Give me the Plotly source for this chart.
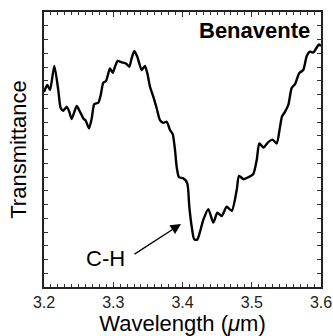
import plotly.graph_objects as go

wavelength = [3.2000, 3.2048, 3.2087, 3.2149, 3.2206, 3.2241, 3.2279, 3.2328, 3.2365, 3.2400,
              3.2472, 3.2520, 3.2568, 3.2602, 3.2650, 3.2689, 3.2726, 3.2784, 3.2819, 3.2856,
              3.2895, 3.2929, 3.2953, 3.2992, 3.3025, 3.3064, 3.3122, 3.3184, 3.3232, 3.3266,
              3.3304, 3.3347, 3.3376, 3.3411, 3.3458, 3.3492, 3.3531, 3.3578, 3.3627, 3.3675,
              3.3723, 3.3772, 3.3819, 3.3859, 3.3892, 3.3916, 3.3949, 3.4012, 3.4069, 3.4098,
              3.4133, 3.4170, 3.4214, 3.4253, 3.4300, 3.4373, 3.4445, 3.4503, 3.4566, 3.4638,
              3.4711, 3.4783, 3.4816, 3.4881, 3.4950, 3.5022, 3.5072, 3.5109, 3.5170, 3.5239,
              3.5300, 3.5360, 3.5408, 3.5437, 3.5480, 3.5528, 3.5577, 3.5625, 3.5687, 3.5744,
              3.5794, 3.5841, 3.5889, 3.5938, 3.5971, 3.6000]
transmittance = [70.9, 73.5, 71.6, 80.4, 71.6, 65.1, 64.1, 65.6, 63.7, 61.1,
                 65.8, 63.7, 61.3, 60.5, 57.7, 61.3, 66.5, 67.0, 69.8, 74.3,
                 74.9, 77.7, 79.5, 77.9, 80.1, 82.2, 81.7, 81.3, 80.1, 83.2,
                 85.8, 83.7, 81.3, 78.9, 80.4, 77.7, 72.8, 69.2, 65.0, 60.7,
                 59.7, 60.1, 57.1, 55.6, 49.8, 43.7, 39.9, 39.5, 37.7, 29.2,
                 21.9, 17.3, 17.3, 20.1, 24.4, 28.3, 23.4, 27.0, 25.8, 29.2,
                 27.7, 35.3, 40.4, 39.2, 39.9, 41.1, 46.2, 52.2, 50.7, 52.7,
                 53.6, 52.2, 58.2, 62.0, 63.7, 66.2, 72.4, 73.8, 77.8, 78.9,
                 84.0, 85.6, 85.3, 87.1, 88.2, 87.6]

x_ticks = [3.2, 3.3, 3.4, 3.5, 3.6]
x_tick_labels = ["3.2", "3.3", "3.4", "3.5", "3.6"]

sample_name = "Benavente"
band_label = "C-H"
band_label_pos = (3.2895, 10.2)
arrow_tail = (3.3285, 11.6)
arrow_head = (3.3978, 22.9)

FONT = "Liberation Sans, Arial, Helvetica, sans-serif"

fig = go.Figure()
fig.add_trace(go.Scatter(
    x=wavelength, y=transmittance, mode="lines",
    line=dict(color="black", width=2.4, shape="spline", smoothing=0.6),
    showlegend=False, hoverinfo="skip"))

fig.add_annotation(text="<b>%s</b>" % sample_name, xref="paper", yref="paper",
                   x=0.9675, y=0.931, xanchor="right", yanchor="middle",
                   showarrow=False, font=dict(family=FONT, size=22, color="black"))
fig.add_annotation(text=band_label, x=band_label_pos[0], y=band_label_pos[1],
                   xref="x", yref="y", xanchor="center", yanchor="middle",
                   showarrow=False, font=dict(family=FONT, size=22, color="black"))
fig.add_annotation(text="", x=arrow_head[0], y=arrow_head[1], xref="x", yref="y",
                   ax=arrow_tail[0], ay=arrow_tail[1], axref="x", ayref="y",
                   showarrow=True, arrowhead=2, arrowsize=1.6, arrowwidth=1.3,
                   arrowcolor="black")

fig.update_layout(
    width=333, height=336,
    margin=dict(l=44, r=12, t=12, b=49, autoexpand=False),
    paper_bgcolor="white", plot_bgcolor="white",
    font=dict(family=FONT, color="black"),
    xaxis=dict(range=[3.2, 3.6], tickvals=x_ticks, ticktext=x_tick_labels,
               automargin=False,
               ticks="inside", ticklen=5, tickwidth=1, tickcolor="#333",
               minor=dict(dtick=0.01, ticks="inside", ticklen=3, tickcolor="#333"),
               showline=True, linecolor="#222", linewidth=1.6, mirror="ticks",
               showgrid=False, zeroline=False,
               tickfont=dict(family=FONT, size=16, color="#222"),
               title=dict(text="Wavelength (<i>μ</i>m)", standoff=7,
                          font=dict(family=FONT, size=22, color="black"))),
    yaxis=dict(range=[0, 100], dtick=5, ticks="inside", ticklen=4, tickwidth=1,
               automargin=False,
               tickcolor="#333", showticklabels=False,
               showline=True, linecolor="#222", linewidth=1.6, mirror="ticks",
               showgrid=False, zeroline=False,
               title=dict(text="Transmittance", standoff=10,
                          font=dict(family=FONT, size=22, color="black"))),
)

fig.write_html("out.html")
